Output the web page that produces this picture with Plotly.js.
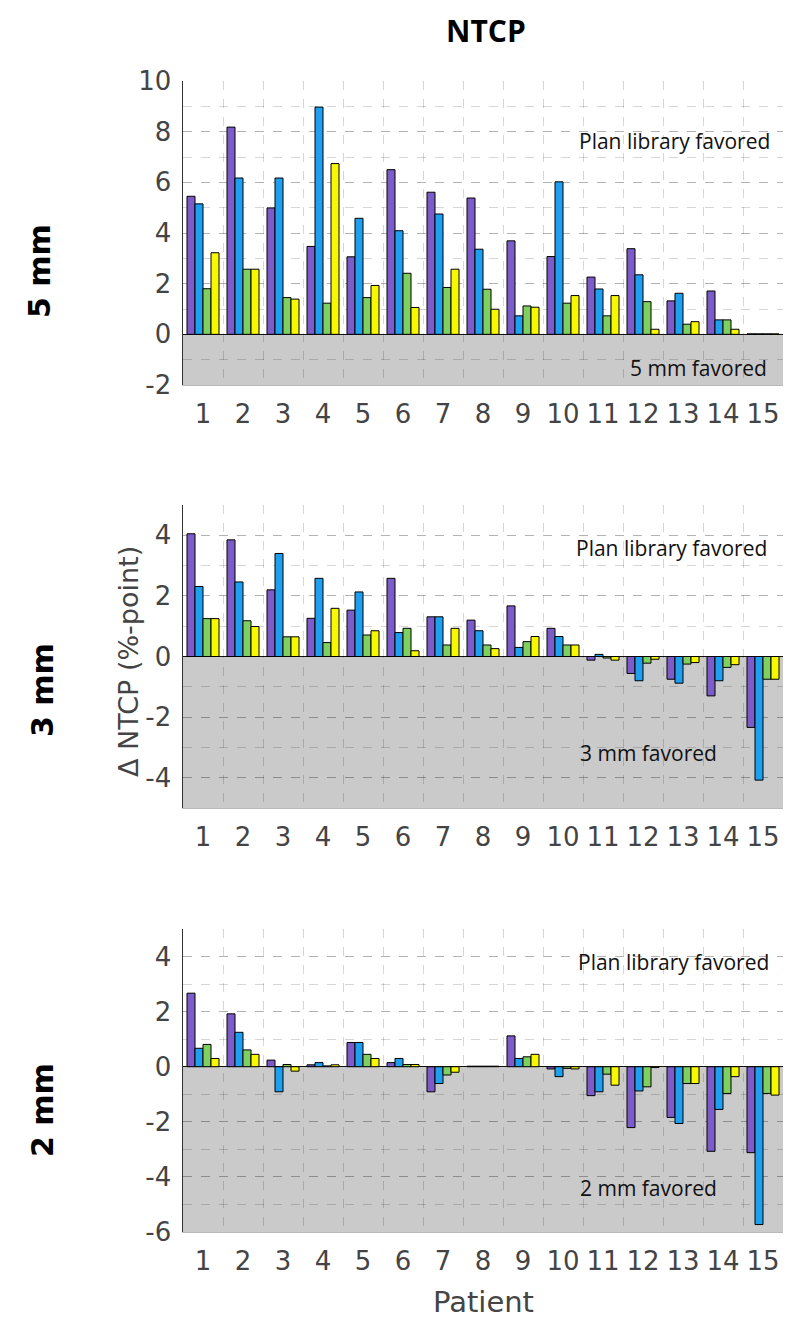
<!DOCTYPE html>
<html>
<head>
<meta charset="utf-8">
<script src="https://cdn.plot.ly/plotly-3.0.1.min.js"></script>
<style>html,body{margin:0;padding:0;background:#fff;}#chart{width:795px;height:1326px;}</style>
</head>
<body>
<div id="chart"></div>
<script>
// Patients (x categories)
const patients = [1,2,3,4,5,6,7,8,9,10,11,12,13,14,15];
const patientLabels = ['1','2','3','4','5','6','7','8','9','10','11','12','13','14','15'];

// 5 mm panel: delta NTCP (%-point)
const mm5_purple = [5.45, 8.18, 4.99, 3.47, 3.06, 6.50, 5.61, 5.38, 3.69, 3.07, 2.26, 3.38, 1.32, 1.71, 0.02];
const mm5_blue   = [5.15, 6.17, 6.17, 8.97, 4.58, 4.09, 4.75, 3.36, 0.73, 6.02, 1.79, 2.35, 1.62, 0.57, 0.02];
const mm5_green  = [1.80, 2.57, 1.45, 1.23, 1.45, 2.41, 1.85, 1.78, 1.12, 1.23, 0.73, 1.29, 0.40, 0.57, 0.02];
const mm5_yellow = [3.22, 2.57, 1.39, 6.74, 1.93, 1.06, 2.57, 0.99, 1.07, 1.53, 1.53, 0.20, 0.50, 0.20, 0.02];

// 3 mm panel
const mm3_purple = [4.05, 3.85, 2.20, 1.26, 1.53, 2.58, 1.31, 1.20, 1.67, 0.93, -0.12, -0.56, -0.75, -1.30, -2.34];
const mm3_blue   = [2.31, 2.46, 3.40, 2.58, 2.13, 0.79, 1.31, 0.85, 0.30, 0.66, 0.07, -0.80, -0.88, -0.80, -4.08];
const mm3_green  = [1.25, 1.18, 0.65, 0.46, 0.71, 0.93, 0.38, 0.38, 0.49, 0.38, -0.05, -0.22, -0.25, -0.36, -0.75];
const mm3_yellow = [1.25, 0.99, 0.65, 1.59, 0.85, 0.19, 0.93, 0.26, 0.66, 0.38, -0.12, -0.09, -0.20, -0.27, -0.75];

// 2 mm panel
const mm2_purple = [2.67, 1.92, 0.24, 0.07, 0.88, 0.15, -0.91, 0.02, 1.12, -0.08, -1.05, -2.21, -1.84, -3.07, -3.12];
const mm2_blue   = [0.67, 1.25, -0.91, 0.15, 0.88, 0.30, -0.61, 0.02, 0.30, -0.36, -0.91, -0.88, -2.06, -1.55, -5.73];
const mm2_green  = [0.81, 0.61, 0.08, 0.03, 0.45, 0.08, -0.30, 0.02, 0.36, -0.06, -0.27, -0.73, -0.61, -0.97, -0.97];
const mm2_yellow = [0.30, 0.45, -0.16, 0.07, 0.30, 0.08, -0.20, 0.02, 0.45, -0.08, -0.67, -0.03, -0.61, -0.36, -1.03];

// Y tick labels per panel
const yTicks5 = [-2, 0, 2, 4, 6, 8, 10];
const yTickText5 = ['-2', '0', '2', '4', '6', '8', '10'];
const yTicks3 = [-4, -2, 0, 2, 4];
const yTickText3 = ['-4', '-2', '0', '2', '4'];
const yTicks2 = [-6, -4, -2, 0, 2, 4];
const yTickText2 = ['-6', '-4', '-2', '0', '2', '4'];

const colors = ['#7b5cc8', '#1f9ff0', '#7fd05e', '#f8f800'];

const panels = [
  {series: [mm5_purple, mm5_blue, mm5_green, mm5_yellow], xa: 'x', ya: 'y'},
  {series: [mm3_purple, mm3_blue, mm3_green, mm3_yellow], xa: 'x2', ya: 'y2'},
  {series: [mm2_purple, mm2_blue, mm2_green, mm2_yellow], xa: 'x3', ya: 'y3'}
];

const traces = [];
panels.forEach(p => {
  p.series.forEach((vals, i) => {
    traces.push({
      type: 'bar', x: patients, y: vals, xaxis: p.xa, yaxis: p.ya,
      marker: {color: colors[i], line: {color: '#000', width: 1}},
      showlegend: false, hoverinfo: 'x+y'
    });
  });
});

const H = 1326;
const gridC = 'rgba(0,0,0,0.16)';
const tickFont = {family: 'DejaVu Sans', size: 26, color: '#444'};

function xAxis(anchor) {
  return {
    anchor: anchor, domain: [0, 1], range: [0.5, 15.5],
    tickmode: 'array', tickvals: patients, ticktext: patientLabels,
    tickfont: tickFont, showgrid: false, zeroline: false, ticks: '',
    ticklabelstandoff: 6,
    showline: true, linecolor: '#bbb', linewidth: 1, mirror: false,
    minor: {tickmode: 'linear', tick0: 0.5, dtick: 1, showgrid: true, gridcolor: gridC, griddash: 'dash', gridwidth: 1}
  };
}
function yAxis(anchor, dom, range, tv, tt) {
  return {
    anchor: anchor, domain: dom, range: range,
    tickmode: 'array', tickvals: tv, ticktext: tt, tickfont: tickFont,
    showgrid: true, gridcolor: gridC, griddash: 'dash', gridwidth: 1,
    minor: {tickmode: 'linear', tick0: 0, dtick: 1, showgrid: true, gridcolor: gridC, griddash: 'dash', gridwidth: 1},
    zeroline: true, zerolinecolor: '#111', zerolinewidth: 1.5,
    showline: true, linecolor: '#333', linewidth: 1.5, ticks: '', ticklabelstandoff: 5
  };
}
const py = v => 1 - v / H;
const px = v => (v - 183) / 600;

function grayRect(xd, ya, y0) {
  return {type: 'rect', xref: xd, yref: ya, x0: 0, x1: 1, y0: y0, y1: 0,
          fillcolor: '#cacaca', line: {width: 0}, layer: 'below'};
}

const annFont = {family: 'Open Sans', size: 21, color: '#111'};
const rowFont = {family: 'DejaVu Sans', size: 30, color: '#000', weight: 'bold'};

const layout = {
  width: 795, height: 1326,
  margin: {l: 183, r: 12, t: 0, b: 0},
  paper_bgcolor: '#fff', plot_bgcolor: 'rgba(0,0,0,0)',
  barmode: 'group', bargap: 0.2, bargroupgap: 0,
  showlegend: false,
  xaxis: xAxis('y'), xaxis2: xAxis('y2'), xaxis3: xAxis('y3'),
  yaxis: yAxis('x', [py(385), py(81)], [-2, 10], yTicks5, yTickText5),
  yaxis2: yAxis('x2', [py(808), py(505)], [-5, 5], yTicks3, yTickText3),
  yaxis3: yAxis('x3', [py(1232), py(929)], [-6, 5], yTicks2, yTickText2),
  shapes: [
    grayRect('x domain', 'y', -2),
    grayRect('x2 domain', 'y2', -5),
    grayRect('x3 domain', 'y3', -6)
  ],
  annotations: [
    {text: '<b>NTCP</b>', xref: 'paper', yref: 'paper', x: px(486), y: py(30), showarrow: false,
     font: {family: 'Open Sans', size: 30, color: '#000'}, xanchor: 'center', yanchor: 'middle'},
    {text: '<b>5 mm</b>', xref: 'paper', yref: 'paper', x: px(40), y: py(271), showarrow: false, textangle: -90,
     font: rowFont, xanchor: 'center', yanchor: 'middle'},
    {text: '<b>3 mm</b>', xref: 'paper', yref: 'paper', x: px(42), y: py(690), showarrow: false, textangle: -90,
     font: rowFont, xanchor: 'center', yanchor: 'middle'},
    {text: '<b>2 mm</b>', xref: 'paper', yref: 'paper', x: px(42), y: py(1110), showarrow: false, textangle: -90,
     font: rowFont, xanchor: 'center', yanchor: 'middle'},
    {text: '\u0394 NTCP (%-point)', xref: 'paper', yref: 'paper', x: px(128), y: py(662), showarrow: false, textangle: -90,
     font: {family: 'DejaVu Sans', size: 27, color: '#444'}, xanchor: 'center', yanchor: 'middle'},
    {text: 'Patient', xref: 'paper', yref: 'paper', x: px(483), y: py(1302), showarrow: false,
     font: {family: 'DejaVu Sans', size: 29, color: '#444'}, xanchor: 'center', yanchor: 'middle'},
    {text: 'Plan library favored', xref: 'paper', yref: 'paper', x: px(772), y: py(141), showarrow: false,
     font: annFont, xanchor: 'right', yanchor: 'middle'},
    {text: '5 mm favored', xref: 'paper', yref: 'paper', x: px(769), y: py(368), showarrow: false,
     font: annFont, xanchor: 'right', yanchor: 'middle'},
    {text: 'Plan library favored', xref: 'paper', yref: 'paper', x: px(769), y: py(548), showarrow: false,
     font: annFont, xanchor: 'right', yanchor: 'middle'},
    {text: '3 mm favored', xref: 'paper', yref: 'paper', x: px(719), y: py(753), showarrow: false,
     font: annFont, xanchor: 'right', yanchor: 'middle'},
    {text: 'Plan library favored', xref: 'paper', yref: 'paper', x: px(771), y: py(962), showarrow: false,
     font: annFont, xanchor: 'right', yanchor: 'middle'},
    {text: '2 mm favored', xref: 'paper', yref: 'paper', x: px(719), y: py(1188), showarrow: false,
     font: annFont, xanchor: 'right', yanchor: 'middle'}
  ]
};

Plotly.newPlot('chart', traces, layout, {displayModeBar: false, staticPlot: true});
</script>
</body>
</html>
